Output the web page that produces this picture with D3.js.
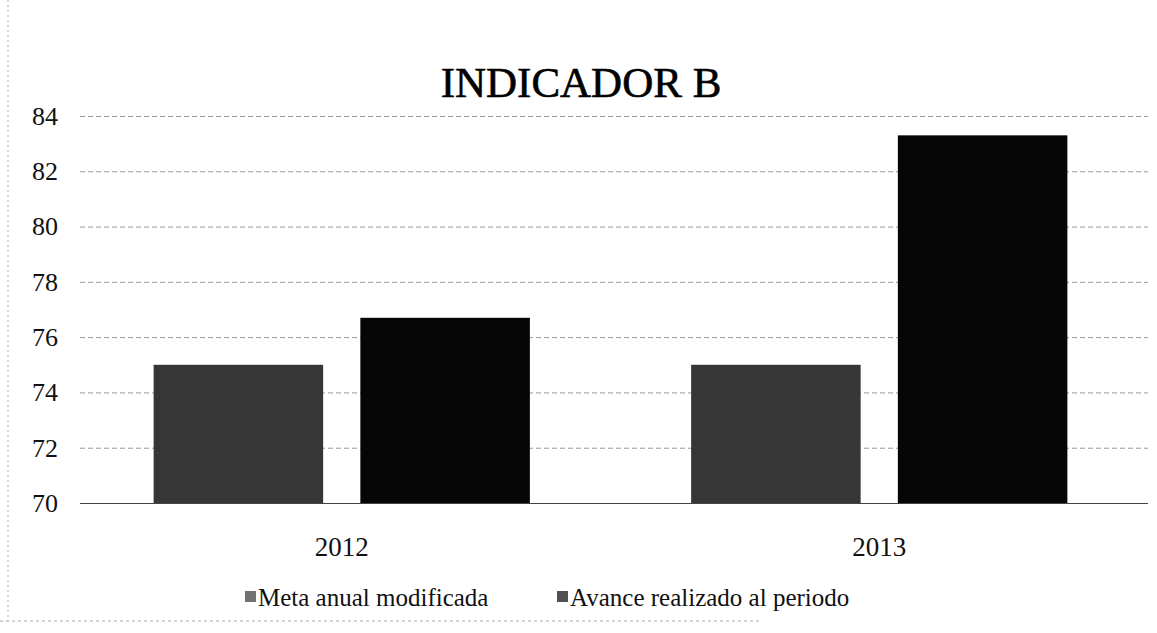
<!DOCTYPE html>
<html lang="es">
<head>
<meta charset="utf-8">
<title>INDICADOR B</title>
<script src="https://cdn.jsdelivr.net/npm/d3@7"></script>
<style>
  html, body { margin: 0; padding: 0; background: #fff; }
</style>
</head>
<body>
<div id="chart"></div>
<script>
  // datos del gráfico
  const years = ['2012', '2013'];
  const seriesNames = ['Meta anual modificada', 'Avance realizado al periodo'];
  const metaValues = [75, 75];
  const avanceValues = [76.7, 83.3];
  const yTicks = [70, 72, 74, 76, 78, 80, 82, 84];

(function() {
  'use strict';

  const W = 1157;
  const H = 633;
  const FONT = '"Liberation Serif"';
  const colors = ['#363636', '#060606'];

  const rows = years.map((year, i) => ({
    year,
    values: [metaValues[i], avanceValues[i]]
  }));

  const svg = d3.select('#chart')
    .append('svg')
    .attr('width', W)
    .attr('height', H);

  // escalas
  const x0 = d3.scaleBand()
    .domain(years)
    .range([73, 1148])
    .paddingInner(0.3)
    .paddingOuter(0.15);

  const x1 = d3.scaleBand()
    .domain(seriesNames)
    .range([0, x0.bandwidth()])
    .paddingInner(0.18);

  const y = d3.scaleLinear()
    .domain([70, 84])
    .range([503, 116]);

  // borde del área (parcial, como en el escaneo)
  svg.append('line')
    .attr('x1', 8).attr('x2', 8)
    .attr('y1', 0).attr('y2', 621)
    .attr('stroke', '#aaa')
    .attr('stroke-dasharray', '2,3');
  svg.append('line')
    .attr('x1', 0).attr('x2', 760)
    .attr('y1', 621).attr('y2', 621)
    .attr('stroke', '#aaa')
    .attr('stroke-dasharray', '3,3');

  // título
  svg.append('text')
    .attr('x', 581)
    .attr('y', 97)
    .attr('text-anchor', 'middle')
    .style('font-family', FONT)
    .style('font-size', '43px')
    .attr('fill', '#000')
    .attr('stroke', '#000')
    .attr('stroke-width', 0.6)
    .text('INDICADOR B');

  // líneas de cuadrícula y eje Y
  const yAxis = svg.append('g')
    .attr('transform', 'translate(80,0)')
    .call(d3.axisLeft(y)
      .tickValues(yTicks)
      .tickSize(-(1148 - 80))
      .tickPadding(22)
      .tickFormat(d3.format('d')));

  yAxis.select('.domain').remove();
  yAxis.selectAll('.tick line')
    .attr('stroke-dasharray', d => d === 70 ? null : '5,3')
    .attr('stroke', d => d === 70 ? '#444' : '#999');
  yAxis.selectAll('.tick text')
    .style('font-family', FONT)
    .style('font-size', '26px')
    .attr('fill', '#111');

  // barras
  const groups = svg.selectAll('.year')
    .data(rows)
    .enter()
    .append('g')
    .attr('class', 'year')
    .attr('transform', d => `translate(${x0(d.year)},0)`);

  groups.selectAll('rect')
    .data(d => d.values.map((v, i) => ({ name: seriesNames[i], value: v, idx: i })))
    .enter()
    .append('rect')
    .attr('x', d => x1(d.name))
    .attr('y', d => y(d.value))
    .attr('width', x1.bandwidth())
    .attr('height', d => y(70) - y(d.value))
    .attr('fill', d => colors[d.idx]);

  // eje X
  const xAxis = svg.append('g')
    .attr('transform', `translate(0,${y(70)})`)
    .call(d3.axisBottom(x0).tickSize(0).tickPadding(34));

  xAxis.select('.domain').remove();
  xAxis.selectAll('text')
    .style('font-family', FONT)
    .style('font-size', '27px')
    .attr('fill', '#111');

  // leyenda
  const legendX = [245, 557];
  const legend = svg.selectAll('.legend')
    .data(seriesNames)
    .enter()
    .append('g')
    .attr('class', 'legend')
    .attr('transform', (d, i) => `translate(${legendX[i]},598)`);

  legend.append('rect')
    .attr('x', 0)
    .attr('y', -7)
    .attr('width', 11)
    .attr('height', 11)
    .attr('fill', (d, i) => colors[i])
    .attr('opacity', 0.7);

  legend.append('text')
    .attr('x', 13)
    .attr('y', 8)
    .style('font-family', FONT)
    .style('font-size', '25px')
    .attr('fill', '#111')
    .text(d => d);
})();
</script>
</body>
</html>
